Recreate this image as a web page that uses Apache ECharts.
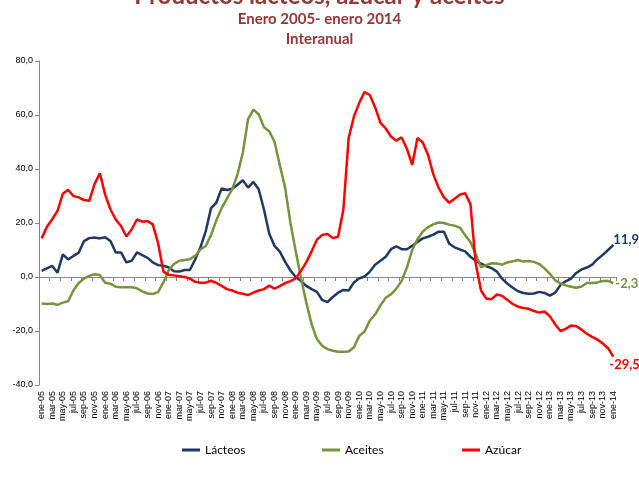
<!DOCTYPE html>
<html>
<head>
<meta charset="utf-8">
<script src="https://cdn.jsdelivr.net/npm/echarts@6/dist/echarts.min.js"></script>
<style>
html, body { margin: 0; padding: 0; background: #fff; }
#chart { width: 639px; height: 479px; }
</style>
</head>
<body>
<div id="chart"></div>
<script>
// meses ene-05 .. ene-14
const meses = ['ene', 'feb', 'mar', 'abr', 'may', 'jun', 'jul', 'ago', 'sep', 'oct', 'nov', 'dic'];
const anios = ['05', '06', '07', '08', '09', '10', '11', '12', '13', '14'];
const categorias = [];
anios.forEach(a => meses.forEach(m => categorias.push(m + '-' + a)));
categorias.length = 109;

const lacteos = [
    2.3, 3.2, 4.1, 1.6, 8.4, 6.5, 7.8, 9.0, 13.3, 14.4, 14.6, 14.3, 14.7, 13.3, 9.1, 9.1, 5.4, 6.0, 9.1, 8.1, 7.1, 5.4, 4.4,
    4.2, 3.5, 2.1, 2.0, 2.6, 2.6, 6.5, 11.0, 17.0, 25.5, 27.5, 32.8, 32.2, 32.7, 34.2, 35.8, 33.1, 35.2, 32.5, 25.0, 16.0, 11.5,
    9.4, 5.6, 2.4, 0.0, -1.5, -3.3, -4.5, -5.5, -8.5, -9.3, -7.4, -5.8, -4.8, -5.0, -2.0, -0.5, 0.2, 2.0, 4.5, 6.0, 7.5,
    10.3, 11.4, 10.3, 10.3, 11.6, 13.0, 14.3, 14.9, 15.7, 16.8, 16.8, 12.3, 11.0, 10.2, 9.5, 7.5, 6.0, 5.0, 4.0, 3.3, 2.0,
    -0.7, -2.5, -4.0, -5.3, -5.9, -6.2, -6.1, -5.5, -5.9, -6.9, -5.8, -3.0, -1.6, -0.6, 1.5, 2.8, 3.5, 4.6, 6.6, 8.2, 10.0, 11.9
];

const aceites = [
    -9.8, -10.0, -9.8, -10.3, -9.5, -9.0, -5.0, -2.2, -0.6, 0.4, 1.0, 0.7, -2.1, -2.5, -3.6, -3.8, -3.8, -3.8, -4.2, -5.3, -6.1, -6.3, -5.6,
    -2.0, 2.5, 4.8, 6.0, 6.3, 6.6, 7.8, 10.2, 11.5, 15.5, 21.0, 25.5, 29.0, 32.5, 38.0, 46.0, 58.5, 62.0, 60.3, 55.5, 54.0, 50.0,
    41.4, 33.0, 20.0, 9.5, -0.5, -9.5, -17.5, -23.0, -25.5, -26.7, -27.3, -27.7, -27.7, -27.6, -26.0, -21.8, -20.2, -16.1, -13.9, -10.5, -7.7,
    -6.4, -4.3, -1.5, 3.5, 10.0, 14.0, 16.8, 18.5, 19.5, 20.2, 20.0, 19.4, 19.0, 18.3, 15.5, 13.0, 8.5, 3.6, 4.4, 5.1, 5.0,
    4.6, 5.4, 5.8, 6.3, 5.7, 5.9, 5.6, 4.8, 3.2, 1.2, -1.2, -2.4, -3.1, -3.6, -4.0, -3.5, -2.2, -2.2, -2.0, -1.5, -1.4, -2.3
];

const azucar = [
    14.3, 18.6, 21.4, 24.5, 30.8, 32.3, 30.0, 29.5, 28.5, 28.2, 34.5, 38.4, 30.5, 25.0, 21.3, 18.9, 15.0, 17.6, 21.3, 20.5, 20.7, 19.5, 12.5,
    2.0, 0.8, 0.6, 0.3, 0.0, -0.6, -1.8, -2.1, -2.1, -1.4, -2.2, -3.3, -4.5, -5.0, -5.8, -6.2, -6.7, -5.8, -5.0, -4.5, -3.2, -4.3,
    -3.4, -2.3, -1.5, -0.5, 2.3, 5.5, 9.5, 13.8, 15.6, 15.9, 14.4, 14.9, 25.0, 51.5, 59.5, 64.5, 68.5, 67.4, 62.8, 57.2, 55.0,
    52.0, 50.5, 51.7, 47.5, 41.5, 51.5, 49.8, 45.2, 38.0, 33.0, 29.5, 27.5, 29.0, 30.5, 31.0, 27.0, 5.0, -5.0, -8.0, -8.2, -6.5,
    -7.0, -8.5, -10.0, -11.0, -11.5, -11.8, -12.6, -13.2, -12.8, -14.5, -17.5, -20.0, -19.2, -18.0, -18.2, -19.5, -21.0, -22.2, -23.2, -24.6, -26.4, -29.5
];

const colLacteos = '#1F3864';
const colAceites = '#77933C';
const colAzucar = '#FF0000';
const colTitulo = '#953735';

// 12.3 -> "12,3"
function coma(v) {
    return v.toFixed(1).replace('.', ',');
}

function serie(nombre, datos, color, offset) {
    return {
        name: nombre,
        type: 'line',
        data: datos,
        xAxisIndex: 0,
        symbol: 'none',
        lineStyle: { width: 2.5, color: color },
        itemStyle: { color: color },
        endLabel: {
            show: true,
            formatter: p => coma(p.value),
            color: color,
            fontFamily: 'Lato',
            fontWeight: 'bold',
            fontSize: 13,
            distance: 1,
            offset: offset
        }
    };
}

function leyenda(nombre, x) {
    return {
        data: [nombre],
        left: x,
        top: 439,
        icon: 'rect',
        itemWidth: 18,
        itemHeight: 3,
        itemGap: 0,
        textStyle: { fontFamily: 'Lato', fontSize: 12, color: '#000' }
    };
}

let myChart = echarts.init(document.getElementById('chart'));
let option = {
    animation: false,
    backgroundColor: '#fff',
    title: [
        {
            text: 'Productos lácteos, azúcar y aceites',
            left: 'center',
            top: -21,
            textStyle: { fontFamily: 'Lato', fontWeight: 'bold', fontSize: 24, color: colTitulo }
        },
        {
            text: 'Enero 2005- enero 2014',
            left: 'center',
            top: 7,
            textStyle: { fontFamily: 'Lato', fontWeight: 'bold', fontSize: 15, color: colTitulo }
        },
        {
            text: 'Interanual',
            left: 'center',
            top: 27,
            textStyle: { fontFamily: 'Lato', fontWeight: 'bold', fontSize: 15, color: colTitulo }
        }
    ],
    legend: [
        leyenda('Lácteos', 177),
        leyenda('Aceites', 317),
        leyenda('Azúcar', 457)
    ],
    grid: { left: 39, top: 61, width: 577, height: 324 },
    xAxis: [
        {
            // etiquetas abajo
            type: 'category',
            data: categorias,
            boundaryGap: true,
            position: 'bottom',
            axisLine: { show: false, onZero: false },
            axisTick: { show: false },
            axisLabel: {
                rotate: 90,
                interval: 1,
                fontFamily: 'Liberation Sans',
                fontSize: 9,
                color: '#000',
                margin: 6
            }
        },
        {
            // eje en cero con marcas
            type: 'category',
            data: categorias,
            boundaryGap: true,
            position: 'bottom',
            axisLine: { show: true, onZero: true, lineStyle: { color: '#868686', width: 1 } },
            axisTick: { show: true, interval: 1, length: 4, lineStyle: { color: '#868686' } },
            axisLabel: { show: false }
        }
    ],
    yAxis: {
        type: 'value',
        min: -40,
        max: 80,
        interval: 20,
        splitLine: { show: false },
        axisLine: { show: true, lineStyle: { color: '#868686' } },
        axisTick: { show: true, length: 4, lineStyle: { color: '#868686' } },
        axisLabel: {
            formatter: v => coma(v),
            fontFamily: 'Liberation Sans',
            fontSize: 9,
            color: '#000',
            margin: 6
        }
    },
    series: [
        serie('Lácteos', lacteos, colLacteos, [-1, -5]),
        serie('Aceites', aceites, colAceites, [1, 1]),
        serie('Azúcar', azucar, colAzucar, [-5, 8])
    ]
};
myChart.setOption(option);
</script>
</body>
</html>
